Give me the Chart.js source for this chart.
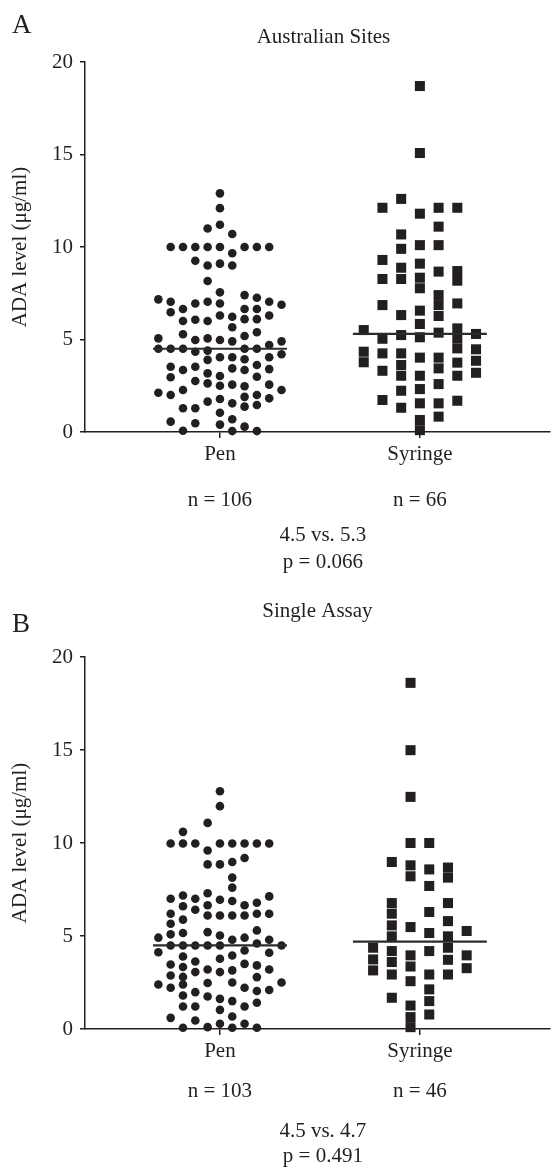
<!DOCTYPE html>
<html>
<head>
<meta charset="utf-8">
<title>ADA level by device</title>
<script src="https://cdn.jsdelivr.net/npm/chart.js@4/dist/chart.umd.min.js"></script>
<style>
  html, body { margin: 0; padding: 0; background: #fff; }
  body { width: 557px; height: 1167px; position: relative; overflow: hidden; }
  .panel { position: absolute; left: 0; width: 557px; }
</style>
</head>
<body>
<div class="panel" style="top:0"><canvas id="chartA" width="557" height="597"></canvas></div>
<div class="panel" style="top:597px"><canvas id="chartB" width="557" height="570"></canvas></div>
<script>
// Column scatter of ADA levels, pen vs syringe, two panels

const groups = ['Pen', 'Syringe'];
const yTickValues = [0, 5, 10, 15, 20];

// Panel A - Australian sites
const penA = [12.9, 12.1, 11.2, 11.0, 10.7,
  10.0, 10.0, 10.0, 10.0, 10.0, 10.0, 10.0, 10.0,
  9.66, 9.26, 9.0, 9.1, 9.0, 8.16, 7.55, 7.4, 7.26, 7.17, 7.04, 7.04, 7.04,
  6.95, 6.95, 6.88, 6.65, 6.65, 6.65, 6.47, 6.3, 6.3, 6.23, 6.1, 6.1, 6.07, 6.0, 6.0,
  5.66, 5.39, 5.28, 5.19, 5.06, 5.06, 4.97, 4.97, 4.9, 4.9,
  4.5, 4.5, 4.5, 4.34, 4.4, 4.5, 4.5, 4.7, 4.2,
  4.04, 4.04, 4.04, 3.93, 3.9, 3.62, 3.53, 3.53, 3.44, 3.4, 3.35, 3.35, 3.17, 3.03,
  2.99, 2.96, 2.76, 2.63, 2.56, 2.56, 2.5, 2.47, 2.27, 2.27, 2.12, 2.0, 2.0,
  1.9, 1.82, 1.78, 1.64, 1.55, 1.46, 1.37, 1.28, 1.28, 1.04,
  0.69, 0.56, 0.47, 0.4, 0.29, 0.07, 0.05, 0.05];
const penALane = [0, 0, 0, -1, 1,
  -4, -3, -2, -1, 0, 2, 3, 4,
  1, -2, -1, 0, 1, -1, 0, 2, 3, -5, -4, -1, 4,
  -2, 0, 5, -3, 2, 3, -4, 0, 4, 1, 2, 3, -2, -3, -1,
  1, 3, -3, 2, -5, -1, -2, 0, 1, 5,
  -5, -4, -3, -2, -1, 2, 3, 4, 5,
  0, 1, 4, 2, -1, 3, -4, -2, 1, 4, -3, 2, -1, 0,
  3, -4, -2, -1, 1, 4, 0, 2, -3, 5, -5, -4, 3,
  2, 4, 0, -1, 1, 3, 2, -3, -2, 0,
  1, -4, -2, 0, 2, -3, 1, 3];
const syrA = [18.7, 15.08, 12.6, 12.12, 12.12, 12.12, 11.8, 11.1, 10.68, 10.1, 10.1, 9.9,
  9.3, 9.1, 8.88, 8.7, 8.67, 8.34, 8.27, 8.27, 8.18, 7.77, 7.4,
  6.95, 6.86, 6.86, 6.56, 6.32, 6.27, 5.84, 5.6, 5.51, 5.37, 5.3, 5.24, 5.12, 5.06, 5.04,
  4.52, 4.47, 4.34, 4.25, 4.25, 4.02, 4.02, 3.85, 3.77, 3.75, 3.62, 3.44, 3.31, 3.2,
  3.04, 3.04, 3.04, 2.59, 2.32, 2.23, 1.73, 1.69, 1.55, 1.55, 1.31, 0.83, 0.65, 0.1];
const syrALane = [0, 0, -1, -2, 1, 2, 0, 1, -1, 0, 1, -1,
  -2, 0, -1, 2, 1, 0, -2, -1, 2, 0, 1,
  2, -2, 1, 0, -1, 1, 0, 2, -3, 1, 3, -1, 0, 2, -2,
  2, 3, -3, -2, -1, 0, 1, 3, -3, 2, -1, 1, -2, 3,
  -1, 0, 2, 1, 0, -1, -2, 2, 0, 1, -1, 1, 0, 0];
const medianA = [4.5, 5.3];
const countA = [106, 66];
const pValueA = '0.066';

// Panel B - single assay
const penB = [12.78, 11.98, 11.08, 10.6,
  9.97, 9.97, 9.97, 9.97, 9.97, 9.97, 9.97, 9.97,
  9.6, 9.19, 8.98, 8.85, 8.85, 8.14,
  7.6, 7.3, 7.18, 7.13, 7.0, 7.0, 6.95, 6.88, 6.79, 6.65, 6.65, 6.6, 6.41,
  6.2, 6.2, 6.2, 6.1, 6.1, 6.1, 6.1, 5.88, 5.66,
  5.3, 5.21, 5.16, 5.09, 5.03, 4.91, 4.91, 4.8, 4.8,
  4.49, 4.49, 4.49, 4.49, 4.49, 4.6, 4.49,
  4.22, 4.1, 4.13, 3.95, 3.9, 3.78, 3.63, 3.5, 3.47, 3.42, 3.33,
  3.2, 3.2, 3.15, 3.06, 3.06, 2.88, 2.8, 2.79,
  2.5, 2.5, 2.47, 2.39, 2.39, 2.22, 2.22, 2.1, 2.04, 1.98,
  1.8, 1.75, 1.62, 1.5, 1.41, 1.21, 1.21, 1.21, 1.03,
  0.67, 0.6, 0.46, 0.28, 0.28, 0.07, 0.07, 0.07, 0.1];
const penBLane = [0, 0, -1, -3,
  -4, -3, -2, 0, 1, 2, 3, 4,
  -1, 2, 1, -1, 0, 1,
  1, -1, -3, 4, -4, -2, 0, 1, 3, 2, -1, -3, -2,
  -4, 3, 4, -1, 0, 1, 2, -3, -4,
  3, -1, -3, -4, 0, -5, 2, 1, 4,
  -4, -3, -2, -1, 0, 3, 5,
  2, 4, -5, 1, -3, 0, -2, 2, -4, 3, -3,
  -1, 4, 1, -2, 0, -4, -3, 3,
  1, 5, -1, -5, -3, -4, 2, 4, 3, -2,
  -3, -1, 0, 1, 3, -3, -2, 2, 0,
  1, -4, -2, 0, 2, -3, 1, 3, -1];
const syrB = [18.61, 14.99, 12.48, 10.0, 10.0, 8.98, 8.8, 8.68, 8.58, 8.21, 8.14, 7.69,
  6.77, 6.77, 6.29, 6.2, 5.8, 5.57, 5.48, 5.27, 5.16, 4.98, 4.98,
  4.37, 4.37, 4.19, 4.19, 3.96, 3.96, 3.74, 3.72, 3.6, 3.36, 3.27, 3.15,
  2.93, 2.93, 2.93, 2.57, 2.13, 1.68, 1.5, 1.26, 0.78, 0.64, 0.1];
const syrBLane = [-0.5, -0.5, -0.5, -0.5, 0.5, -1.5, -0.5, 1.5, 0.5, -0.5, 1.5, 0.5,
  -1.5, 1.5, 0.5, -1.5, 1.5, -1.5, -0.5, 2.5, 0.5, -1.5, 1.5,
  -2.5, 1.5, -1.5, 0.5, -0.5, 2.5, -2.5, 1.5, -1.5, -0.5, 2.5, -2.5,
  -1.5, 0.5, 1.5, -0.5, 0.5, -1.5, 0.5, -0.5, 0.5, -0.5, -0.5];
const medianB = [4.5, 4.7];
const countB = [103, 46];
const pValueB = '0.491';

const ink = '#231f20';
const serif = '"Liberation Serif", "Times New Roman", serif';
const penStep = 0.0616;   // horizontal gap between circle columns (x units)
const syrStep = 0.0936;   // horizontal gap between square columns
const medianHalf = 0.335; // half length of the median bar

function toPoints(values, lanes, center, step) {
  return values.map((v, i) => ({ x: center + lanes[i] * step, y: v }));
}

// letter, title and the n / median / p-value block under the axis
const panelText = {
  id: 'panelText',
  afterDraw(chart, args, o) {
    const { ctx, chartArea, scales } = chart;
    const x = scales.x;
    ctx.save();
    ctx.fillStyle = ink;
    ctx.textBaseline = 'alphabetic';
    ctx.textAlign = 'left';
    ctx.font = '27px ' + serif;
    ctx.fillText(o.letter, 12, o.letterY);
    ctx.font = '21px ' + serif;
    ctx.textAlign = 'center';
    ctx.fillText(o.title, (chartArea.left + chartArea.right) / 2 + o.titleShift, o.titleY);
    o.counts.forEach((n, i) => {
      ctx.fillText('n = ' + n, x.getPixelForValue(i + 1), chartArea.bottom + o.nGap);
    });
    const mid = (x.getPixelForValue(1) + x.getPixelForValue(2)) / 2 + 3;
    ctx.fillText(o.medians[0].toFixed(1) + ' vs. ' + o.medians[1].toFixed(1), mid, chartArea.bottom + o.statGap);
    ctx.fillText('p = ' + o.p, mid, chartArea.bottom + o.statGap + o.pGap);
    ctx.restore();
  }
};

function makePanel(id, pen, penLane, syr, syrLane, medians, text, top, height) {
  const datasets = [
    {
      type: 'line', order: 0,
      data: [{ x: 1 - medianHalf, y: medians[0] }, { x: 1 + medianHalf, y: medians[0] }],
      borderColor: '#2b2b2b', borderWidth: 2.2, pointRadius: 0, clip: false
    },
    {
      type: 'line', order: 0,
      data: [{ x: 2 - medianHalf, y: medians[1] }, { x: 2 + medianHalf, y: medians[1] }],
      borderColor: '#2b2b2b', borderWidth: 2.2, pointRadius: 0, clip: false
    },
    {
      label: groups[0], order: 1,
      data: toPoints(pen, penLane, 1, penStep),
      pointStyle: 'circle', pointRadius: 4.3, pointHoverRadius: 4.3,
      backgroundColor: ink, borderColor: ink, borderWidth: 0, clip: false
    },
    {
      label: groups[1], order: 1,
      data: toPoints(syr, syrLane, 2, syrStep),
      pointStyle: 'rect', pointRadius: 7.1, pointHoverRadius: 7.1,
      backgroundColor: ink, borderColor: ink, borderWidth: 0, clip: false
    }
  ];

  return new Chart(document.getElementById(id), {
    type: 'scatter',
    data: { datasets },
    options: {
      responsive: false,
      animation: false,
      devicePixelRatio: 1,
      layout: { padding: { top: top, left: 0, right: 0, bottom: 0 } },
      plugins: {
        legend: { display: false },
        tooltip: { enabled: false },
        panelText: text
      },
      scales: {
        x: {
          type: 'linear',
          min: 1 - 137 / 203,
          max: 2 + 132 / 203,
          afterBuildTicks: s => { s.ticks = [{ value: 1 }, { value: 2 }]; },
          afterFit: s => { s.height = height - 432; },
          ticks: {
            color: ink, font: { family: serif, size: 21 }, padding: 4,
            callback: v => groups[v - 1]
          },
          grid: { display: true, drawOnChartArea: false, drawTicks: true, tickLength: 6, color: ink, lineWidth: 1.5 },
          border: { display: true, color: ink, width: 1.5 }
        },
        y: {
          min: 0, max: 20,
          afterBuildTicks: s => { s.ticks = yTickValues.map(v => ({ value: v })); },
          afterFit: s => { s.width = 85; },
          ticks: { color: ink, font: { family: serif, size: 21 }, padding: 7 },
          grid: { display: true, drawOnChartArea: false, drawTicks: true, tickLength: 5, color: ink, lineWidth: 1.5 },
          border: { display: true, color: ink, width: 1.5 },
          title: {
            display: true, text: 'ADA level (μg/ml)', color: ink,
            font: { family: serif, size: 21 }, padding: { top: 8, bottom: 0 }
          }
        }
      }
    },
    plugins: [panelText]
  });
}

makePanel('chartA', penA, penALane, syrA, syrALane, medianA,
  { letter: 'A', letterY: 33, title: 'Australian Sites', titleShift: 6, titleY: 43,
    counts: countA, medians: medianA, p: pValueA, nGap: 74, statGap: 109, pGap: 27 },
  62, 597);

makePanel('chartB', penB, penBLane, syrB, syrBLane, medianB,
  { letter: 'B', letterY: 35, title: 'Single Assay', titleShift: 0, titleY: 20,
    counts: countB, medians: medianB, p: pValueB, nGap: 68, statGap: 108, pGap: 25 },
  60, 570);
</script>
</body>
</html>
